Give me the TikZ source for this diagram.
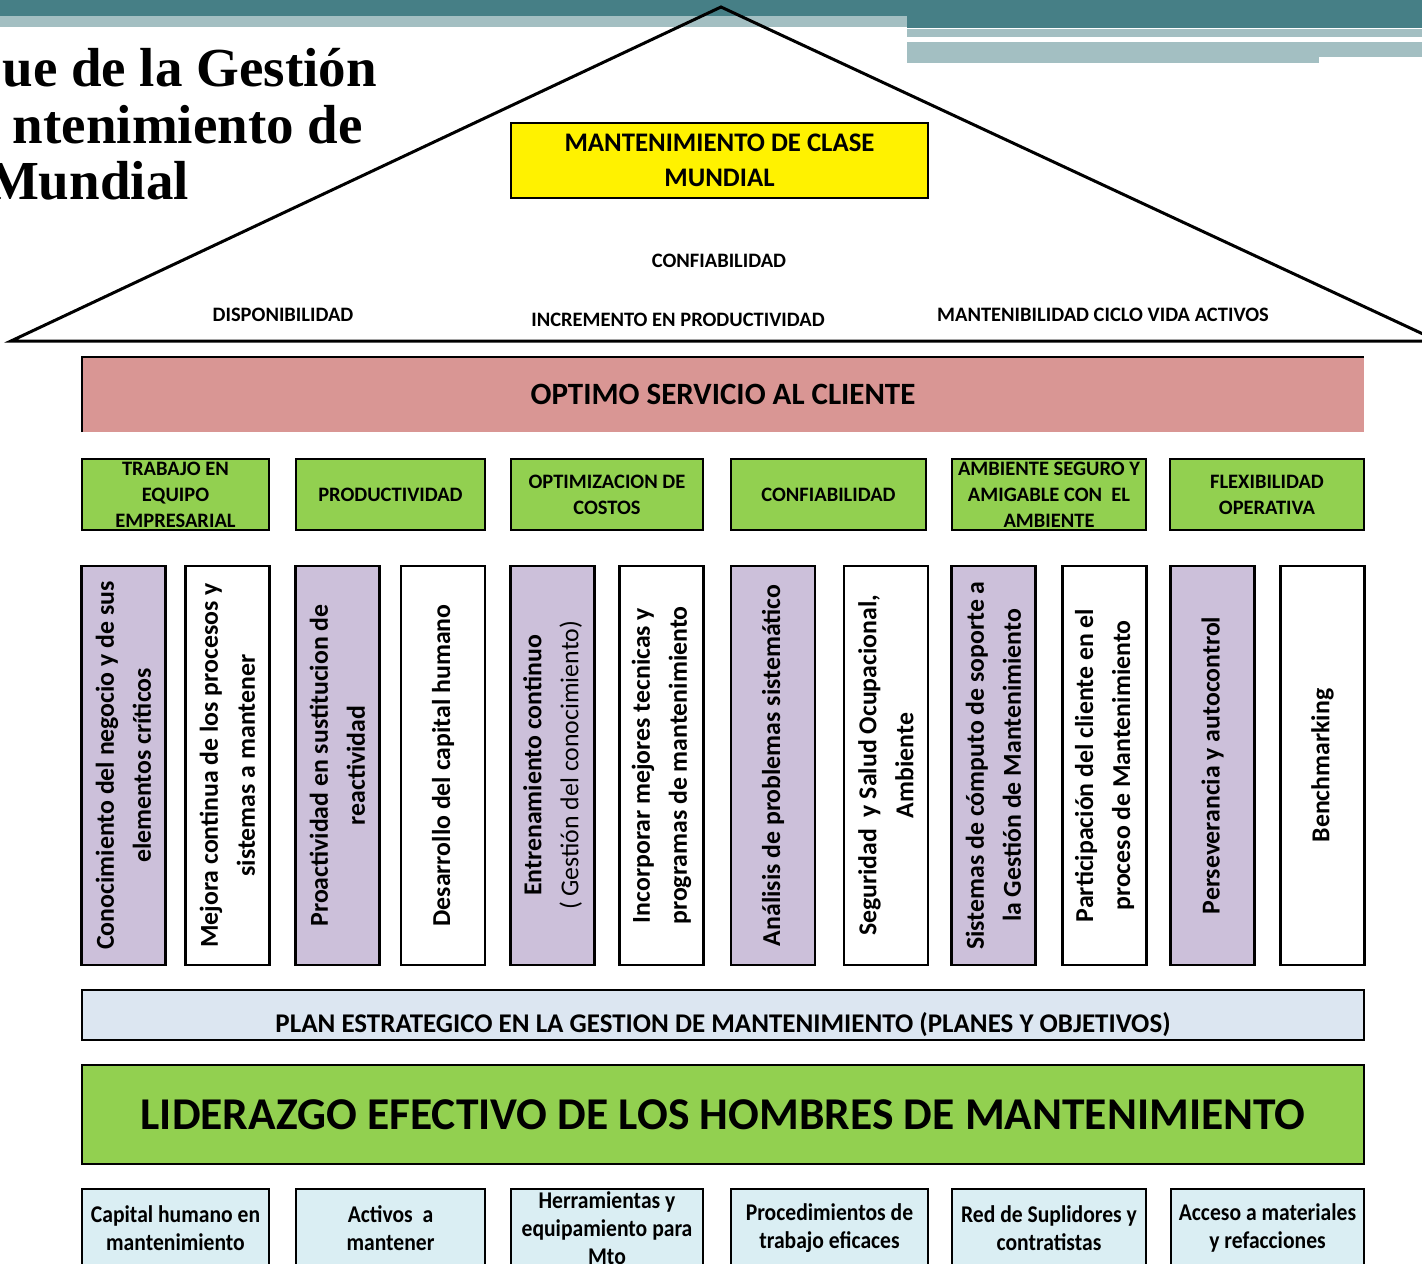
\documentclass[tikz,border=0pt]{standalone}
\usepackage{fontspec}
\setmainfont{Carlito}
\newfontfamily\titlefont{Liberation Serif}
\newfontfamily\narrowfont[FakeStretch=0.9]{Carlito}
\newcommand\fsz[2]{\fontsize{#1}{#2}\selectfont}
\definecolor{bandteal}{RGB}{70,127,134}
\definecolor{bandlight}{RGB}{163,191,194}
\definecolor{pinkband}{RGB}{217,150,148}
\definecolor{greenbox}{RGB}{146,208,80}
\definecolor{lilac}{RGB}{204,192,218}
\definecolor{planblue}{RGB}{220,230,241}
\definecolor{basebox}{RGB}{218,238,243}
\tikzset{
  goalbox/.style={draw, line width=2.4pt, fill=greenbox, inner sep=0pt,
    minimum height=71, text width=#1, minimum width=#1, align=flush center,
    font=\fsz{20.5}{26}\bfseries},
  pillar/.style={draw, line width=2.4pt, rotate=90, inner sep=0pt,
    minimum width=399, minimum height=84, text width=395, align=flush center,
    font=\fsz{25.8}{37}\bfseries},
  lilacpillar/.style={pillar, fill=lilac},
  whitepillar/.style={pillar, fill=white},
  resource/.style={draw, line width=2.4pt, fill=basebox, inner sep=0pt,
    minimum height=78, text width=#1, minimum width=#1, align=flush center,
    font=\narrowfont\fsz{24}{28}\bfseries},
  roofword/.style={font=\fsz{20.5}{24}\bfseries, inner sep=0pt}
}
\begin{document}
\begin{tikzpicture}[x=1pt,y=-1pt]
  \useasboundingbox (0,0) rectangle (1422,1264);
  % header bands
  \fill[bandteal] (0,0) rectangle (1422,16);
  \fill[bandteal] (907,0) rectangle (1422,28);
  \fill[bandlight] (0,16) rectangle (907,27);
  \fill[bandlight] (907,29) rectangle (1422,37);
  \fill[bandlight] (907,42) rectangle (1319,63);
  \fill[bandlight] (1319,42) rectangle (1422,57);
  % title
  \node[anchor=base east, inner sep=0pt, font=\titlefont\fsz{55}{57}\bfseries]
    (title1) at (377,86) {ue de la Gestión};
  \node[anchor=base east, inner sep=0pt, font=\titlefont\fsz{55}{57}\bfseries]
    (title2) at (363,143) {ntenimiento de};
  \node[anchor=base east, inner sep=0pt, font=\titlefont\fsz{55}{57}\bfseries]
    (title3) at (189,199) {Mundial};
  % roof
  \coordinate (roofleft) at (11,341);
  \coordinate (apex) at (721,7);
  \coordinate (roofright) at (1438,341);
  \draw[line width=3pt, line join=miter] (roofleft) -- (apex) -- (roofright) -- cycle;
  \node[draw, line width=2.2pt, fill=yellow, inner sep=0pt, minimum width=417,
    minimum height=75, text width=417, align=flush center, font=\fsz{26.8}{35}\bfseries]
    (goal) at (719.5,160.5) {MANTENIMIENTO DE CLASE\\MUNDIAL};
  \node[roofword] (conf) at (719,261) {CONFIABILIDAD};
  \node[roofword] (disp) at (283,315) {DISPONIBILIDAD};
  \node[roofword] (incr) at (678,320) {INCREMENTO EN PRODUCTIVIDAD};
  \node[roofword] (mant) at (1103,315) {MANTENIBILIDAD CICLO VIDA ACTIVOS};
  % customer band
  \node[fill=pinkband, inner sep=0pt, minimum width=1282, minimum height=75,
    font=\fsz{31}{34}\bfseries] (cliente) at (723,394.5) {OPTIMO SERVICIO AL CLIENTE};
  \draw[line width=2.4pt] (cliente.south west) -- (cliente.north west) -- (cliente.north east);
  % goals
  \node[goalbox=187] (equipo) at (175.5,494.5) {TRABAJO EN\\EQUIPO\\EMPRESARIAL};
  \node[goalbox=189] (produc) at (390.5,494.5) {PRODUCTIVIDAD};
  \node[goalbox=192] (costos) at (607,494.5) {OPTIMIZACION DE\\COSTOS};
  \node[goalbox=195] (confia) at (828.5,494.5) {CONFIABILIDAD};
  \node[goalbox=194] (ambien) at (1049,494.5) {AMBIENTE SEGURO Y\\AMIGABLE CON\ \ EL\\AMBIENTE};
  \node[goalbox=194] (flexib) at (1267,494.5) {FLEXIBILIDAD\\OPERATIVA};
  % pillars
  \node[lilacpillar] (p1) at (123.5,765.5) {Conocimiento del negocio y de sus\\elementos críticos};
  \node[whitepillar] (p2) at (227.5,765.5) {Mejora continua de los procesos y\\sistemas a mantener};
  \node[lilacpillar] (p3) at (337.5,765.5) {Proactividad en sustitucion de\\reactividad};
  \node[whitepillar] (p4) at (443,765.5) {Desarrollo del capital humano};
  \node[lilacpillar] (p5) at (552.5,765.5) {Entrenamiento continuo\\{\mdseries ( Gestión del conocimiento)}};
  \node[whitepillar] (p6) at (661.5,765.5) {Incorporar mejores tecnicas y\\programas de mantenimiento};
  \node[lilacpillar] (p7) at (773,765.5) {Análisis de problemas sistemático};
  \node[whitepillar] (p8) at (886,765.5) {Seguridad\ \ y Salud Ocupacional,\\Ambiente};
  \node[lilacpillar] (p9) at (993.5,765.5) {Sistemas de cómputo de soporte a\\la Gestión de Mantenimiento};
  \node[whitepillar] (p10) at (1104.5,765.5) {Participación del cliente en el\\proceso de Mantenimiento};
  \node[lilacpillar] (p11) at (1212.5,765.5) {Perseverancia y autocontrol};
  \node[whitepillar] (p12) at (1322.5,765.5) {Benchmarking};
  % foundations
  \node[draw, line width=2.4pt, fill=planblue, inner sep=0pt, minimum width=1282,
    minimum height=50] (plan) at (723,1015) {};
  \node[font=\fsz{27}{30}\bfseries, inner sep=0pt, yshift=-10pt] (plantext) at (plan.center)
    {PLAN ESTRATEGICO EN LA GESTION DE MANTENIMIENTO (PLANES Y OBJETIVOS)};
  \node[draw, line width=2.4pt, fill=greenbox, inner sep=0pt, minimum width=1282,
    minimum height=99, font=\fsz{45.5}{50}\bfseries] (lider) at (723,1114.5)
    {LIDERAZGO EFECTIVO DE LOS HOMBRES DE MANTENIMIENTO};
  % resources
  \node[resource=187] (r1) at (175.5,1228) {Capital humano en\\mantenimiento};
  \node[resource=189] (r2) at (390.5,1228) {Activos\ \ a\\mantener};
  \node[resource=192] (r3) at (607,1228) {Herramientas y\\equipamiento para\\Mto};
  \node[resource=197] (r4) at (829.5,1228) {Procedimientos de\\trabajo eficaces};
  \node[resource=194] (r5) at (1049,1228) {Red de Suplidores y\\contratistas};
  \node[resource=193] (r6) at (1267.5,1228) {Acceso a materiales\\y refacciones};
\end{tikzpicture}
\end{document}
